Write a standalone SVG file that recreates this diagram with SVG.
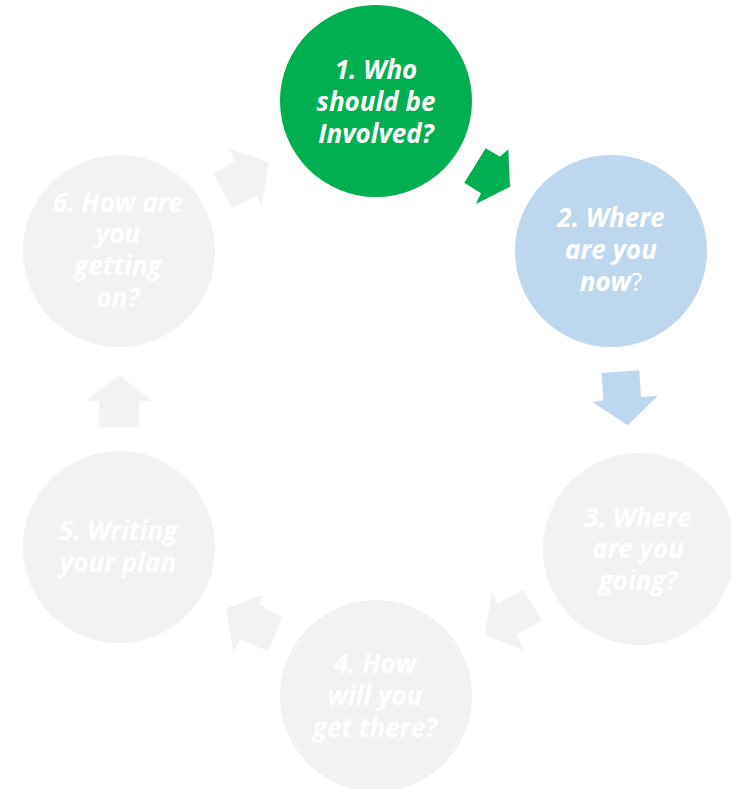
<svg xmlns="http://www.w3.org/2000/svg" width="731" height="789" viewBox="0 0 731 789">
  <style>
    .lbl { font-family: "Open Sans", "Liberation Sans", sans-serif; font-size: 26px; font-weight: bold; font-style: italic; fill: #FFFFFF; text-anchor: middle; }
    .plain { font-weight: normal; font-style: normal; }
    .green { fill: #00B050; }
    .blue { fill: #BDD7EE; }
    .grey { fill: #F2F2F2; }
  </style>
  <rect x="0" y="0" width="731" height="789" fill="#FFFFFF"/>
  <g id="connectors">
    <polygon class="green" points="485.7,148.3 500,156.7 508.3,149.3 510,186.7 475.7,204 481,193.3 464.3,182.7"/>
    <polygon class="blue" points="601.7,373 639.3,370.3 641,397 657.7,396 627.7,425.3 592.3,402 603.3,400.3"/>
    <polygon class="grey" points="492,593.3 498,603.3 523,590 542,620 517.3,635 523,650 484.7,635"/>
    <polygon class="grey" points="226,608.7 263.3,594 259.3,604.7 281.7,617.3 268.3,651.3 240.7,639.7 233.3,651.3"/>
    <polygon class="grey" points="119,375 151.7,400.7 139.3,400.7 139.3,427.3 99.3,427.3 99.3,400.7 86.7,400.7"/>
    <polygon class="grey" points="229.7,149 269,162.3 261.3,205.7 257.3,195.7 231.3,208 214,174 234.7,160.7"/>
  </g>
  <g id="node1">
    <circle class="green" cx="376" cy="101" r="96"/>
    <text class="lbl" x="376" y="79">1. Who</text>
    <text class="lbl" x="376" y="111">should be</text>
    <text class="lbl" x="376" y="143">Involved?</text>
  </g>
  <g id="node2">
    <circle class="blue" cx="611" cy="251" r="96"/>
    <text class="lbl" x="611" y="227">2. Where</text>
    <text class="lbl" x="611" y="259">are you</text>
    <text class="lbl" x="611" y="291">now<tspan class="plain">?</tspan></text>
  </g>
  <g id="node3">
    <circle class="grey" cx="639" cy="549" r="96"/>
    <text class="lbl" x="638" y="527">3. Where</text>
    <text class="lbl" x="638" y="558">are you</text>
    <text class="lbl" x="638" y="590">going?</text>
  </g>
  <g id="node4">
    <circle class="grey" cx="376" cy="696" r="96"/>
    <text class="lbl" x="375" y="673">4. How</text>
    <text class="lbl" x="375" y="705">will you</text>
    <text class="lbl" x="375" y="737">get there?</text>
  </g>
  <g id="node5">
    <circle class="grey" cx="119" cy="547" r="96"/>
    <text class="lbl" x="118" y="540">5. Writing</text>
    <text class="lbl" x="118" y="572">your plan</text>
  </g>
  <g id="node6">
    <circle class="grey" cx="119" cy="251" r="96"/>
    <text class="lbl" x="118" y="212">6. How are</text>
    <text class="lbl" x="118" y="243">you</text>
    <text class="lbl" x="118" y="275">getting</text>
    <text class="lbl" x="118" y="307">on?</text>
  </g>
</svg>
